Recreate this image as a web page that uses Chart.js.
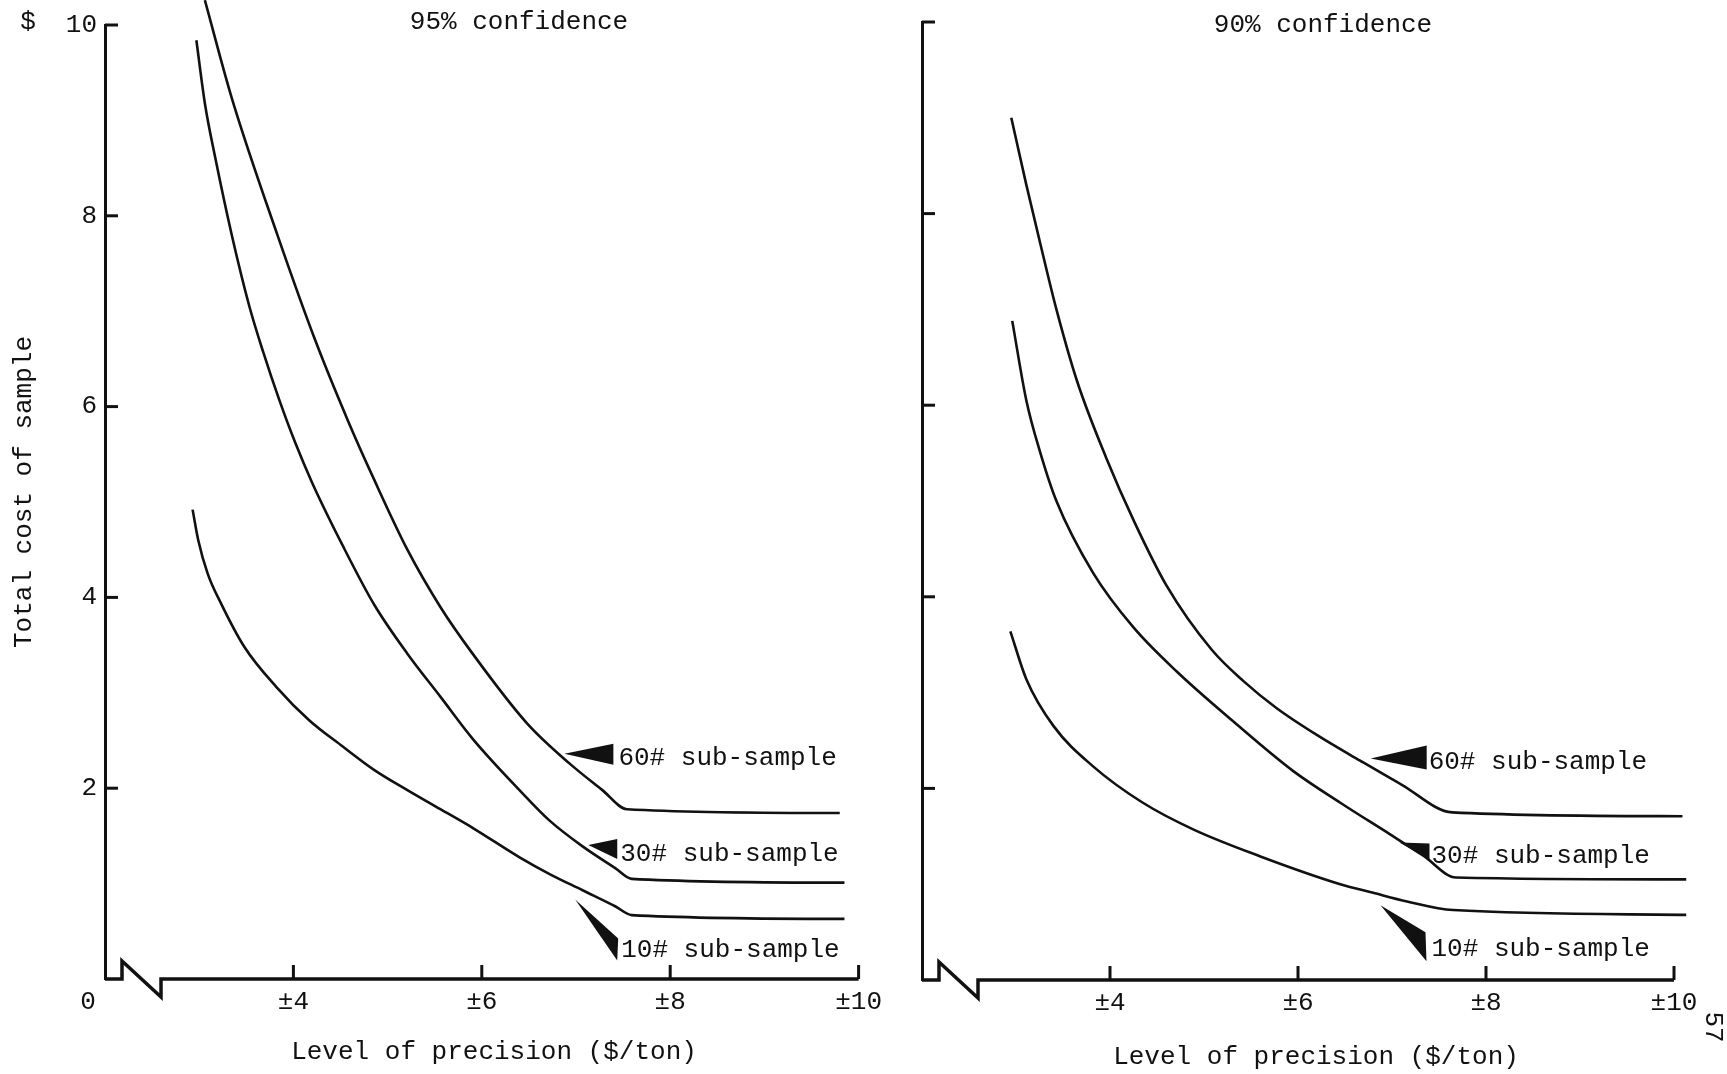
<!DOCTYPE html>
<html>
<head>
<meta charset="utf-8">
<script src="https://cdn.jsdelivr.net/npm/chart.js@4/dist/chart.umd.min.js"></script>
<style>
  html, body { margin: 0; padding: 0; background: #fff; }
  body { width: 1727px; height: 1074px; position: relative; overflow: hidden; }
  canvas { position: absolute; top: 0; }
  #chart95 { left: 0; }
  #chart90 { left: 890px; }
</style>
</head>
<body>
<canvas id="chart95" width="890" height="1074"></canvas>
<canvas id="chart90" width="837" height="1074"></canvas>
<script>
// tick values shared by both panels
const xTickValues = [4, 6, 8, 10];
const yTickValues = [2, 4, 6, 8, 10];
const seriesLabels = ['60# sub-sample', '30# sub-sample', '10# sub-sample'];

// 95% confidence: level of precision ($/ton) vs total cost of sample ($)
const precision95Sub60 = [3.06, 3.35, 3.83, 4.23, 4.58, 4.85, 5.21, 5.56, 5.91, 6.48, 6.93, 7.28, 7.54, 9.80];
const cost95Sub60 = [10.26, 9.22, 7.80, 6.70, 5.85, 5.25, 4.50, 3.90, 3.40, 2.68, 2.26, 1.98, 1.78, 1.74];
const precision95Sub30 = [2.97, 3.06, 3.17, 3.35, 3.53, 3.68, 3.85, 4.02, 4.20, 4.52, 4.86, 5.21, 5.56, 5.91, 6.41, 6.72, 7.07, 7.42, 7.59, 9.85];
const cost95Sub30 = [9.84, 9.18, 8.61, 7.78, 7.06, 6.57, 6.07, 5.62, 5.20, 4.55, 3.92, 3.41, 2.96, 2.51, 1.97, 1.66, 1.39, 1.16, 1.05, 1.01];
const precision95Sub10 = [2.93, 2.99, 3.09, 3.23, 3.48, 3.82, 4.17, 4.52, 4.86, 5.21, 5.56, 5.91, 6.41, 6.72, 7.07, 7.42, 7.59, 9.85];
const cost95Sub10 = [4.92, 4.60, 4.25, 3.94, 3.48, 3.06, 2.71, 2.44, 2.19, 1.98, 1.78, 1.58, 1.27, 1.10, 0.93, 0.76, 0.67, 0.63];

// 90% confidence
const precision90Sub60 = [2.95, 3.11, 3.26, 3.43, 3.65, 3.96, 4.26, 4.60, 5.08, 5.42, 5.77, 6.23, 6.66, 7.10, 7.64, 10.09];
const cost90Sub60 = [9.00, 8.30, 7.68, 7.00, 6.25, 5.45, 4.78, 4.12, 3.45, 3.12, 2.84, 2.54, 2.29, 2.04, 1.75, 1.71];
const precision90Sub30 = [2.96, 3.11, 3.26, 3.43, 3.82, 4.25, 4.71, 5.31, 5.95, 6.45, 6.98, 7.33, 7.68, 10.13];
const cost90Sub30 = [6.88, 6.05, 5.50, 5.00, 4.25, 3.68, 3.22, 2.70, 2.18, 1.85, 1.52, 1.30, 1.07, 1.05];
const precision90Sub10 = [2.94, 3.11, 3.40, 3.82, 4.35, 4.89, 5.60, 6.45, 6.80, 7.16, 7.65, 10.13];
const cost90Sub10 = [3.64, 3.14, 2.65, 2.23, 1.85, 1.57, 1.29, 1.00, 0.91, 0.82, 0.73, 0.68];

const ink = '#111';
const typeFamily = '"Liberation Mono", "DejaVu Sans Mono", monospace';
const typeFont = { family: typeFamily, size: 26 };

const lineDataset = (label, xs, ys) => ({
  label,
  data: xs.map((x, i) => ({ x, y: ys[i] })),
  borderColor: ink,
  borderWidth: 2.6,
  pointRadius: 0,
  cubicInterpolationMode: 'monotone',
  clip: false,
});

// draws the typed-on bits: broken x axis, inward ticks, labels with wedges, captions
const makePaperPlugin = (notes, texts) => ({
  id: 'paper',
  afterDatasetsDraw(chart) {
    const { ctx, chartArea: area } = chart;
    const xScale = chart.scales.x;
    const yScale = chart.scales.y;
    const b = area.bottom;
    const l = area.left;
    ctx.save();
    ctx.strokeStyle = ink;
    ctx.fillStyle = ink;
    ctx.lineJoin = 'miter';

    ctx.lineWidth = 3.5;
    ctx.beginPath();
    ctx.moveTo(l, b);
    ctx.lineTo(l + 17, b);
    ctx.lineTo(l + 17, b - 18);
    ctx.lineTo(l + 56, b + 18);
    ctx.lineTo(l + 56, b);
    ctx.lineTo(area.right, b);
    ctx.stroke();

    ctx.lineWidth = 3;
    xTickValues.forEach((v) => {
      const px = xScale.getPixelForValue(v);
      ctx.beginPath();
      ctx.moveTo(px, b);
      ctx.lineTo(px, b - 14);
      ctx.stroke();
    });
    yTickValues.forEach((v) => {
      const py = yScale.getPixelForValue(v);
      ctx.beginPath();
      ctx.moveTo(l, py);
      ctx.lineTo(l + 13, py);
      ctx.stroke();
    });

    ctx.font = `26px ${typeFamily}`;
    ctx.textBaseline = 'middle';
    notes.forEach((note, i) => {
      const tx = xScale.getPixelForValue(note.x);
      const ty = yScale.getPixelForValue(note.y);
      ctx.beginPath();
      note.wedge.forEach(([dx, dy], k) => {
        if (k) ctx.lineTo(tx + dx, ty + dy);
        else ctx.moveTo(tx + dx, ty + dy);
      });
      ctx.closePath();
      ctx.fill();
      ctx.textAlign = 'left';
      ctx.fillText(seriesLabels[i], tx, ty);
    });

    texts.forEach((t) => {
      ctx.save();
      ctx.translate(t.x, t.y);
      ctx.rotate(((t.rotate || 0) * Math.PI) / 180);
      ctx.textAlign = 'center';
      ctx.fillText(t.text, 0, 0);
      ctx.restore();
    });
    ctx.restore();
  },
});

const buildPanel = (canvasId, datasets, frame, notes, texts) => new Chart(document.getElementById(canvasId), {
  type: 'line',
  data: { datasets },
  options: {
    responsive: false,
    animation: false,
    events: [],
    layout: { padding: { top: frame.top, right: frame.right, left: 0, bottom: 0 } },
    plugins: { legend: { display: false }, tooltip: { enabled: false } },
    scales: {
      x: {
        type: 'linear',
        min: 2,
        max: 10,
        afterFit: (s) => { s.height = frame.xAxisHeight; },
        afterBuildTicks: (s) => { s.ticks = xTickValues.map((value) => ({ value })); },
        grid: { display: false, drawTicks: false },
        border: { display: false },
        ticks: {
          font: typeFont, color: ink, padding: 8, maxRotation: 0, autoSkip: false,
          callback: (v) => `±${v}`,
        },
      },
      y: {
        type: 'linear',
        min: 0,
        max: 10,
        afterFit: (s) => { s.width = frame.yAxisWidth; },
        afterBuildTicks: (s) => { s.ticks = yTickValues.map((value) => ({ value })); },
        grid: { display: false, drawTicks: false },
        border: { display: true, color: ink, width: 3 },
        ticks: { display: frame.yLabels, font: typeFont, color: ink, padding: 8 },
      },
    },
  },
  plugins: [makePaperPlugin(notes, texts)],
});

buildPanel('chart95', [
  lineDataset(seriesLabels[0], precision95Sub60, cost95Sub60),
  lineDataset(seriesLabels[1], precision95Sub30, cost95Sub30),
  lineDataset(seriesLabels[2], precision95Sub10, cost95Sub10),
], { top: 25, right: 17, xAxisHeight: 95, yAxisWidth: 105, yLabels: true }, [
  { x: 7.45, y: 2.32, wedge: [[-54, -4], [-5, -14], [-5, 7]] },
  { x: 7.47, y: 1.31, wedge: [[-32, -9], [-3, -15], [-3, 5]] },
  { x: 7.48, y: 0.30, wedge: [[-46, -51], [-3, -12], [-4, 10]] },
], [
  { text: '95% confidence', x: 519, y: 22 },
  { text: 'Level of precision ($/ton)', x: 494, y: 1052 },
  { text: 'Total cost of sample', x: 24, y: 492, rotate: -90 },
  { text: '$', x: 28, y: 22 },
  { text: '0', x: 88, y: 1002 },
]);

buildPanel('chart90', [
  lineDataset(seriesLabels[0], precision90Sub60, cost90Sub60),
  lineDataset(seriesLabels[1], precision90Sub30, cost90Sub30),
  lineDataset(seriesLabels[2], precision90Sub10, cost90Sub10),
], { top: 22, right: 53, xAxisHeight: 94, yAxisWidth: 32, yLabels: false }, [
  { x: 7.39, y: 2.27, wedge: [[-58, -4], [-2, -17], [-2, 7]] },
  { x: 7.42, y: 1.29, wedge: [[-32, -14], [-2, -13], [-2, 3]] },
  { x: 7.42, y: 0.32, wedge: [[-51, -44], [-6, -17], [-5, 12]] },
], [
  { text: '90% confidence', x: 433, y: 25 },
  { text: 'Level of precision ($/ton)', x: 426, y: 1057 },
  { text: '57', x: 823, y: 1027, rotate: 90 },
]);
</script>
</body>
</html>
